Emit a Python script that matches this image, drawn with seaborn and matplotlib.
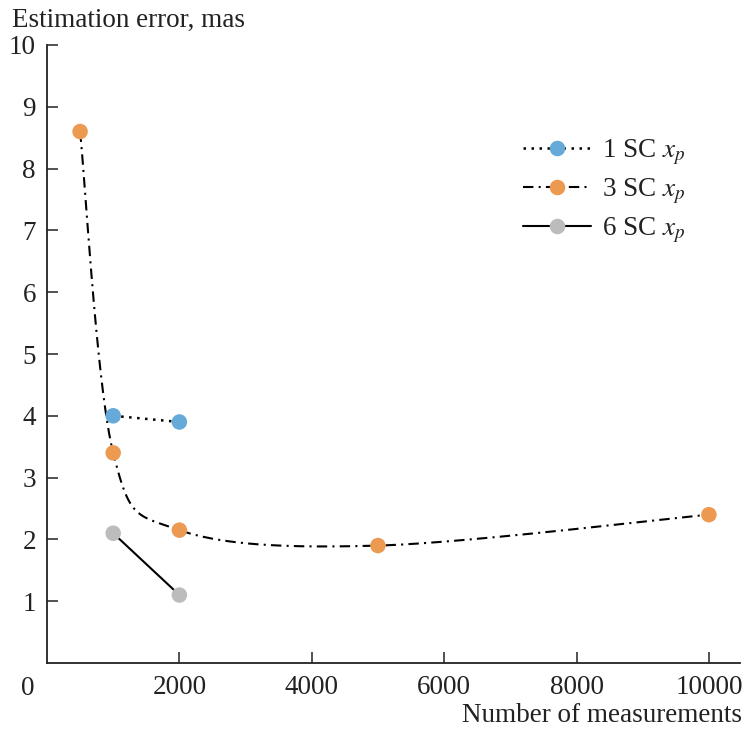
import matplotlib
matplotlib.use("Agg")
import matplotlib.pyplot as plt
import numpy as np
import pandas as pd
import seaborn as sns
from matplotlib.lines import Line2D

# data
sc1_n = [1000, 2000]
sc1_err = [4.0, 3.9]
sc3_n = [500, 1000, 2000, 5000, 10000]
sc3_err = [8.6, 3.4, 2.15, 1.9, 2.4]
sc6_n = [1000, 2000]
sc6_err = [2.1, 1.1]

x_ticks = [2000, 4000, 6000, 8000, 10000]
y_ticks = [1, 2, 3, 4, 5, 6, 7, 8, 9, 10]

blue = "#65aad9"
orange = "#ec9a52"
grey = "#bcbcbc"

XLIM = (0, 10470)
YLIM = (0, 10)


def smooth(xs, ys, n=60):
    # Catmull-Rom curve through the points, worked out in axes-fraction space
    px = (np.asarray(xs, float) - XLIM[0]) / (XLIM[1] - XLIM[0])
    py = (np.asarray(ys, float) - YLIM[0]) / (YLIM[1] - YLIM[0])
    p = np.column_stack([px, py])
    p = np.vstack([p[0], p, p[-1]])
    out = []
    t = np.linspace(0, 1, n)[:, None]
    for i in range(1, len(p) - 2):
        p0, p1, p2, p3 = p[i - 1], p[i], p[i + 1], p[i + 2]
        c1 = p1 + (p2 - p0) / 6
        c2 = p2 - (p3 - p1) / 6
        seg = ((1 - t) ** 3) * p1 + 3 * ((1 - t) ** 2) * t * c1 + 3 * (1 - t) * t ** 2 * c2 + t ** 3 * p2
        out.append(seg)
    out = np.vstack(out)
    cx = out[:, 0] * (XLIM[1] - XLIM[0]) + XLIM[0]
    cy = out[:, 1] * (YLIM[1] - YLIM[0]) + YLIM[0]
    return cx, cy


def main():
    sns.set_style("white")
    plt.rcParams["font.family"] = ["Liberation Serif", "DejaVu Serif"]
    plt.rcParams["mathtext.fontset"] = "stix"
    fs = 19.5
    ink = "#222222"

    fig = plt.figure(figsize=(7.45, 7.29), dpi=100)
    ax = fig.add_axes([47 / 745, 1 - 663 / 729, 693 / 745, 618 / 729])

    dash_dot = (0, (5, 2.5, 1, 2.5))
    dotted = (0, (1, 2.2))
    cx, cy = smooth(sc3_n, sc3_err)
    ax.plot(cx, cy, color="black", lw=1.5, linestyle=dash_dot, zorder=2)

    df1 = pd.DataFrame({"n": sc1_n, "err": sc1_err})
    df6 = pd.DataFrame({"n": sc6_n, "err": sc6_err})
    df3 = pd.DataFrame({"n": sc3_n, "err": sc3_err})
    sns.lineplot(data=df1, x="n", y="err", ax=ax, color="black", lw=1.8,
                 linestyle=dotted, zorder=2)
    sns.lineplot(data=df6, x="n", y="err", ax=ax, color="black", lw=1.5, zorder=2)
    ms = 125
    sns.scatterplot(data=df1, x="n", y="err", ax=ax, color=blue, s=ms, edgecolor="none", zorder=3)
    sns.scatterplot(data=df3, x="n", y="err", ax=ax, color=orange, s=ms, edgecolor="none", zorder=3)
    sns.scatterplot(data=df6, x="n", y="err", ax=ax, color=grey, s=ms, edgecolor="none", zorder=3)

    ax.set_xlim(*XLIM)
    ax.set_ylim(*YLIM)
    ax.set_xticks(x_ticks)
    ax.set_yticks(y_ticks)
    ax.set_xticklabels([str(v) for v in x_ticks], fontsize=fs)
    ax.set_yticklabels([str(v) for v in y_ticks], fontsize=fs)
    ax.tick_params(axis="both", direction="in", length=8, width=1.1, color=ink,
                   labelcolor=ink, bottom=True, left=True)
    ax.tick_params(axis="x", pad=9)
    ax.tick_params(axis="y", pad=8)
    ax.set_xlabel("")
    ax.set_ylabel("")
    for s in ["top", "right"]:
        ax.spines[s].set_visible(False)
    for s in ["left", "bottom"]:
        ax.spines[s].set_linewidth(1.3)
        ax.spines[s].set_color(ink)

    fig.text(35 / 745, 1 - 695 / 729, "0", fontsize=fs, ha="right", va="baseline", color=ink)
    fig.text(12 / 745, 1 - 27 / 729, "Estimation error, mas", fontsize=fs, ha="left",
             va="baseline", color=ink)
    fig.text(742 / 745, 1 - 722 / 729, "Number of measurements", fontsize=fs, ha="right",
             va="baseline", color=ink)

    handles = [
        Line2D([], [], color="black", lw=1.8, linestyle=dotted, marker="o",
               markersize=11.2, markerfacecolor=blue, markeredgecolor="none"),
        Line2D([], [], color="black", lw=1.5, linestyle=dash_dot, marker="o",
               markersize=11.2, markerfacecolor=orange, markeredgecolor="none"),
        Line2D([], [], color="black", lw=1.5, marker="o",
               markersize=11.2, markerfacecolor=grey, markeredgecolor="none"),
    ]
    labels = ["1 SC $x_p$", "3 SC $x_p$", "6 SC $x_p$"]
    ax.legend(handles, labels, loc="upper left", bbox_to_anchor=(523 / 745, 1 - 138 / 729),
              bbox_transform=fig.transFigure, frameon=False, fontsize=fs,
              handlelength=2.5, handletextpad=0.4, labelspacing=0.35, borderpad=0,
              borderaxespad=0, labelcolor=ink)

    fig.savefig("out.png", dpi=100)


if __name__ == "__main__":
    main()
